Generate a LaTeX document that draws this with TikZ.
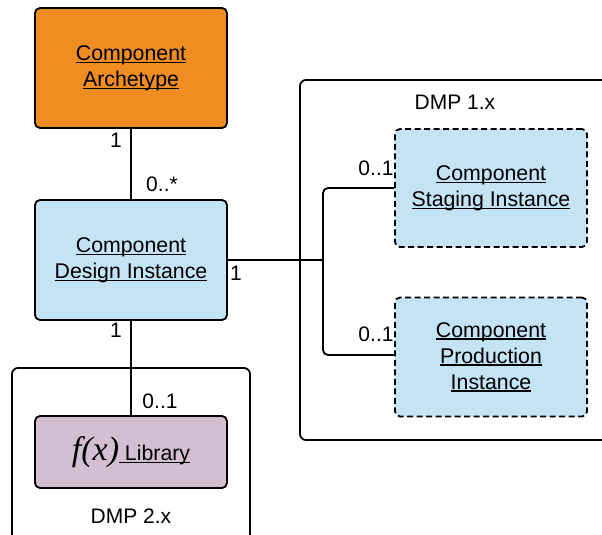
\documentclass[tikz,border=0pt]{standalone}
\usepackage{fontspec}
\setmainfont{Liberation Sans}
\newfontfamily\fxfont{Liberation Serif}
\usetikzlibrary{calc}

\definecolor{archorange}{RGB}{239,141,34}
\definecolor{instblue}{RGB}{196,227,245}
\definecolor{libpurple}{RGB}{211,190,212}

% underline at a fixed depth below the baseline
\newcommand{\uln}[1]{\leavevmode\setbox0\hbox{#1}\rlap{\rule[-2.6pt]{\wd0}{1.3pt}}\box0}

\tikzset{
  umlbox/.style={draw=black, line width=1.8pt, rounded corners=5pt,
    minimum width=192pt, align=center, inner sep=0pt,
    font=\fontsize{21.3}{26}\selectfont},
  dashedbox/.style={umlbox, dash pattern=on 6pt off 3.5pt},
  container/.style={draw=black, line width=1.8pt, rounded corners=6pt},
  link/.style={draw=black, line width=1.8pt},
  mult/.style={font=\fontsize{21}{24}\selectfont, inner sep=0pt},
}

\begin{document}
\begin{tikzpicture}[x=1pt, y=-1pt]
  \clip (0,0) rectangle (602,535);
  \fill[white] (0,0) rectangle (602,535);

  % package containers
  \draw[container] (300,80) rectangle (620,440);
  \node[mult] (dmp1) at (455,102) {DMP 1.x};
  \draw[container] (12,368) rectangle (250,545);
  \node[mult] (dmp2) at (131,516) {DMP 2.x};

  % classes
  \node[umlbox, fill=archorange, minimum height=120pt] (arch) at (131,68)
    {\uln{Component}\\\uln{Archetype}};
  \node[umlbox, fill=instblue, minimum height=120pt] (design) at (131,260)
    {\uln{Component}\\\uln{Design Instance}};
  \node[umlbox, fill=libpurple, minimum height=72pt] (lib) at (131,452)
    {{\fxfont\itshape\fontsize{34}{34}\selectfont f(x)}\uln{ Library}};
  \node[dashedbox, fill=instblue, minimum height=118pt] (staging) at (491,188)
    {\uln{Component}\\\uln{Staging Instance}};
  \node[dashedbox, fill=instblue, minimum height=119pt] (prod) at (491,357)
    {\uln{Component}\\\uln{Production}\\\uln{Instance}};

  % associations
  \draw[link] (arch.south) -- (design.north);
  \draw[link] (design.south) -- (lib.north);

  \coordinate (tip) at (319,260);
  \draw[link] (design.east) -- (tip);
  \draw[link, rounded corners=5pt]
    (tip) .. controls (322,260) and (323,259) .. (323,255)
    -- (323,188) -- (staging.west);
  \draw[link, rounded corners=5pt]
    (tip) .. controls (322,260) and (323,261) .. (323,265)
    -- (323,355) -- (prod.west |- 0,355);

  % multiplicities
  \node[mult] (m1) at (116,140) {1};
  \node[mult] (m2) at (162,184) {0..*};
  \node[mult] (m3) at (236,273) {1};
  \node[mult] (m4) at (116,330) {1};
  \node[mult] (m5) at (160,401) {0..1};
  \node[mult] (m6) at (376,168) {0..1};
  \node[mult] (m7) at (376,334) {0..1};
\end{tikzpicture}
\end{document}
